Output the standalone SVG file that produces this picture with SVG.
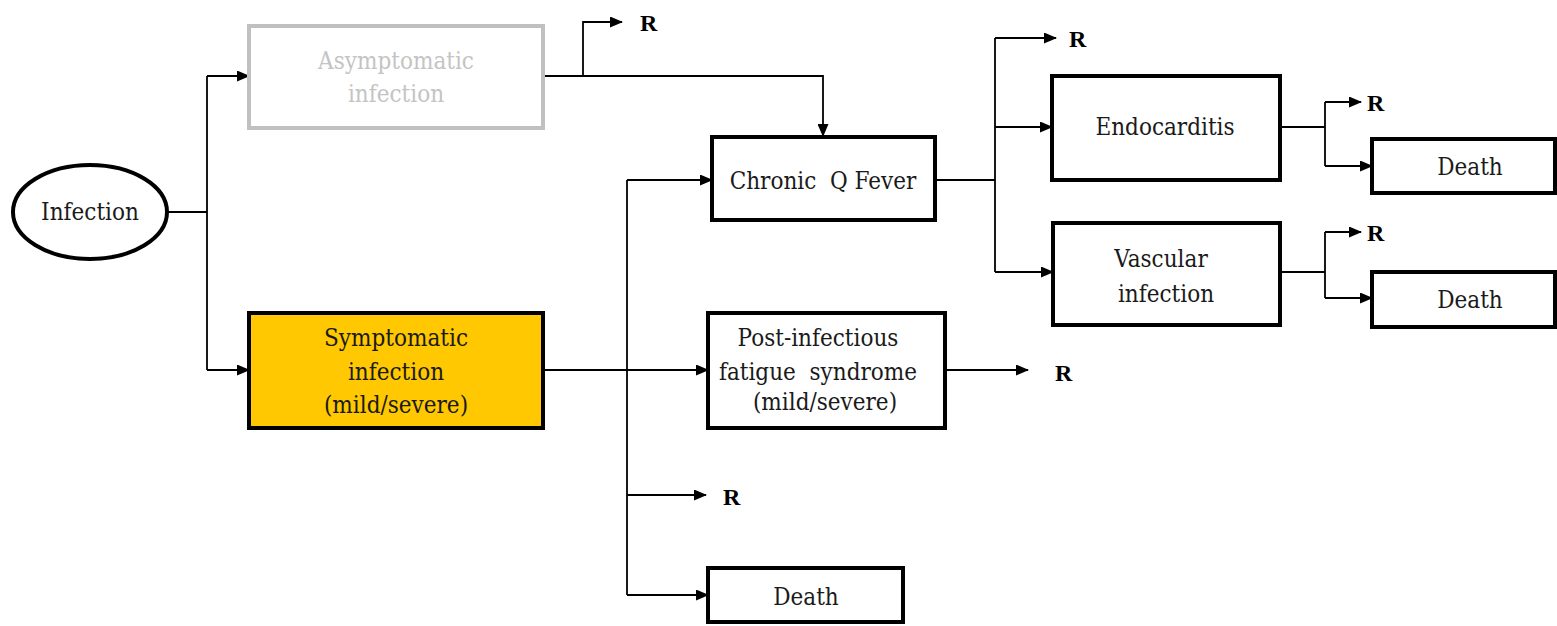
<svg xmlns="http://www.w3.org/2000/svg" width="1557" height="626" viewBox="0 0 1557 626">
  <style>
    .box { fill: #ffffff; stroke: #000000; stroke-width: 4; }
    .grey { fill: #ffffff; stroke: #c0c0c0; stroke-width: 4; }
    .hot { fill: #ffc800; stroke: #000000; stroke-width: 4; }
    .lbl { font-family: "DejaVu Serif Condensed", "DejaVu Serif", serif; font-stretch: condensed; font-size: 24px; fill: #1a1a1a; text-anchor: middle; }
    .dim { fill: #c4c4c4; }
    .r { font-family: "Liberation Serif", serif; font-size: 24px; font-weight: bold; fill: #000000; }
    .wire { fill: none; stroke: #000000; stroke-width: 1.8; }
    .arr { marker-end: url(#head); }
  </style>
  <defs>
    <marker id="head" markerUnits="userSpaceOnUse" markerWidth="13" markerHeight="11" refX="12" refY="5.5" orient="auto">
      <path d="M0,0 L13,5.5 L0,11 z" fill="#000000"/>
    </marker>
  </defs>

  <rect width="1557" height="626" fill="#ffffff"/>

  <!-- connectors -->
  <g id="connectors">
    <!-- Infection split -->
    <path class="wire" d="M168,212 H207 M207,76 V370"/>
    <path class="wire arr" d="M207,76 H249"/>
    <path class="wire arr" d="M207,370 H249"/>
    <!-- Asymptomatic outputs -->
    <path class="wire" d="M543,76 H583"/>
    <path class="wire arr" d="M583,76 V22 H622"/>
    <path class="wire arr" d="M583,76 H823 V136"/>
    <!-- Symptomatic outputs -->
    <path class="wire arr" d="M543,370 H708"/>
    <path class="wire" d="M627,180 V595"/>
    <path class="wire arr" d="M627,180 H712"/>
    <path class="wire arr" d="M627,495 H706"/>
    <path class="wire arr" d="M627,595 H708"/>
    <!-- Post-infectious fatigue -->
    <path class="wire arr" d="M946,370 H1028"/>
    <!-- Chronic Q fever split -->
    <path class="wire" d="M935,180 H995 M995,38 V272"/>
    <path class="wire arr" d="M995,38 H1056"/>
    <path class="wire arr" d="M995,127 H1052"/>
    <path class="wire arr" d="M995,272 H1053"/>
    <!-- Endocarditis outputs -->
    <path class="wire" d="M1280,127 H1325 M1325,102 V166"/>
    <path class="wire arr" d="M1325,102 H1361"/>
    <path class="wire arr" d="M1325,166 H1372"/>
    <!-- Vascular outputs -->
    <path class="wire" d="M1280,272 H1325 M1325,232 V298"/>
    <path class="wire arr" d="M1325,232 H1361"/>
    <path class="wire arr" d="M1325,298 H1372"/>
  </g>

  <!-- recovery labels -->
  <g id="recoveries">
    <text class="r" x="640" y="31">R</text>
    <text class="r" x="1069" y="47">R</text>
    <text class="r" x="1367" y="111">R</text>
    <text class="r" x="1367" y="241">R</text>
    <text class="r" x="1055" y="381">R</text>
    <text class="r" x="723" y="505">R</text>
  </g>

  <g id="infection">
    <ellipse cx="90" cy="212" rx="77" ry="47" fill="#ffffff" stroke="#000000" stroke-width="4"/>
    <text class="lbl" x="90" y="220">Infection</text>
  </g>

  <g id="asymptomatic">
    <rect class="grey" x="249" y="26" width="294" height="102"/>
    <text class="lbl dim" x="396" y="69">Asymptomatic</text>
    <text class="lbl dim" x="396" y="102">infection</text>
  </g>

  <g id="symptomatic">
    <rect class="hot" x="249" y="313" width="294" height="115"/>
    <text class="lbl" x="396" y="346">Symptomatic</text>
    <text class="lbl" x="396" y="380">infection</text>
    <text class="lbl" x="396" y="413">(mild/severe)</text>
  </g>

  <g id="chronic">
    <rect class="box" x="712" y="137" width="223" height="83"/>
    <text class="lbl" x="823" y="189" xml:space="preserve">Chronic  Q Fever</text>
  </g>

  <g id="fatigue">
    <rect class="box" x="708" y="313" width="237" height="115"/>
    <text class="lbl" x="818" y="346">Post-infectious</text>
    <text class="lbl" x="818" y="380" xml:space="preserve">fatigue  syndrome</text>
    <text class="lbl" x="825" y="410">(mild/severe)</text>
  </g>

  <g id="death-acute">
    <rect class="box" x="708" y="568" width="195" height="54"/>
    <text class="lbl" x="806" y="605">Death</text>
  </g>

  <g id="endocarditis">
    <rect class="box" x="1052" y="76" width="228" height="104"/>
    <text class="lbl" x="1165" y="135">Endocarditis</text>
  </g>

  <g id="vascular">
    <rect class="box" x="1053" y="223" width="227" height="102"/>
    <text class="lbl" x="1161" y="267">Vascular</text>
    <text class="lbl" x="1166" y="302">infection</text>
  </g>

  <g id="death-endocarditis">
    <rect class="box" x="1372" y="139" width="183" height="54"/>
    <text class="lbl" x="1470" y="175">Death</text>
  </g>

  <g id="death-vascular">
    <rect class="box" x="1372" y="272" width="183" height="55"/>
    <text class="lbl" x="1470" y="308">Death</text>
  </g>
</svg>
